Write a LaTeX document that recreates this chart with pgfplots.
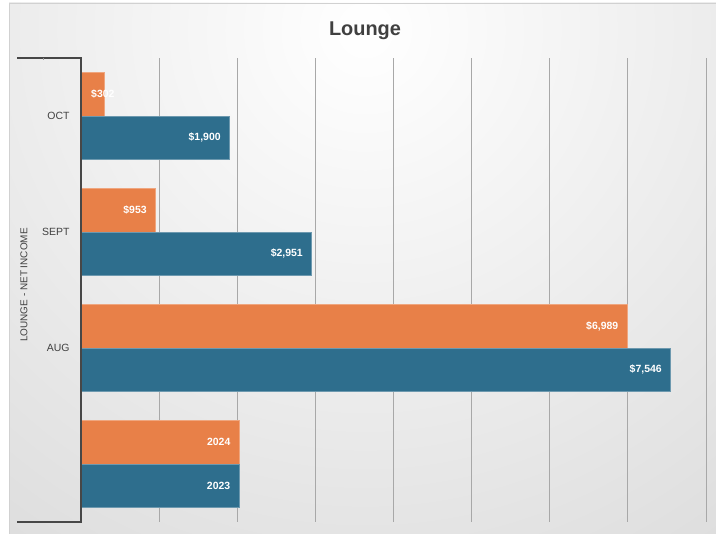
\documentclass[border=0pt]{standalone}
\usepackage{pgfplots}
\pgfplotsset{compat=1.18}
\usepackage{fontspec}
\setmainfont{Liberation Sans}
\definecolor{barorange}{RGB}{232,128,72}
\definecolor{barblue}{RGB}{46,110,141}
\definecolor{titlegray}{RGB}{64,64,64}
\definecolor{labgray}{RGB}{64,64,64}
\definecolor{gridgray}{RGB}{168,168,168}
\begin{document}
\begin{tikzpicture}
\useasboundingbox (0,0) rectangle (716bp,534bp);
\fill[white] (0,0) rectangle (716bp,534bp);
\begin{scope}
\clip (9bp,0bp) rectangle (716bp,531bp);
\shade[inner color=white, outer color=black!21] (365bp,504bp) circle (1000bp);
\end{scope}
\draw[black!18, line width=0.8bp] (9bp,0bp) -- (9bp,531bp) -- (716bp,531bp);
\node[anchor=base, font=\fontsize{20}{24}\selectfont\bfseries, text=titlegray] at (365bp,498bp) {Lounge};
\node[rotate=90, font=\fontsize{10}{12}\selectfont, text=labgray] at (24bp,249bp) {LOUNGE - NET INCOME};
\begin{axis}[
  at={(81bp,12bp)}, anchor=south west,
  scale only axis, width=625bp, height=464bp,
  xmin=0, xmax=8000, ymin=-0.5, ymax=3.5,
  y dir=reverse,
  axis line style={draw=none},
  xtick={0,1000,...,8000}, xticklabels={},
  xmajorgrids, grid style={gridgray, line width=1bp},
  ytick={0,1,2,3}, yticklabels={OCT,SEPT,AUG,{}},
  yticklabel style={font=\fontsize{10.5}{12}\selectfont, text=labgray, xshift=-8bp},
  major tick length=0pt,
  xbar, bar width=0.375,
  point meta=explicit symbolic,
  nodes near coords,
  nodes near coords style={font=\fontsize{10.5}{12}\selectfont\bfseries, text=white, anchor=east, inner sep=0pt, xshift=-8.5bp},
  clip=false,
]
\addplot[bar shift=-0.1875, fill=barorange, draw=barorange!70!white, line width=0.6bp]
  coordinates {(302,0) [{}] (953,1) [\$953] (6989,2) [\$6,989] (2024,3) [2024]};
\addplot[bar shift=0.1875, fill=barblue, draw=barblue!70!white, line width=0.6bp]
  coordinates {(1900,0) [\$1,900] (2951,1) [\$2,951] (7546,2) [\$7,546] (2023,3) [2023]};
\node[anchor=west, font=\fontsize{10.5}{12}\selectfont\bfseries, text=white, inner sep=0pt, xshift=10bp] at (axis cs:0,-0.1875) {\$302};
\end{axis}
\draw[black!72, line width=1.5bp] (17bp,476bp) -- (81bp,476bp) -- (81bp,12bp) -- (17bp,12bp);
\draw[black!40, line width=0.6bp] (43bp,476bp) -- (43bp,474bp);
\end{tikzpicture}
\end{document}
